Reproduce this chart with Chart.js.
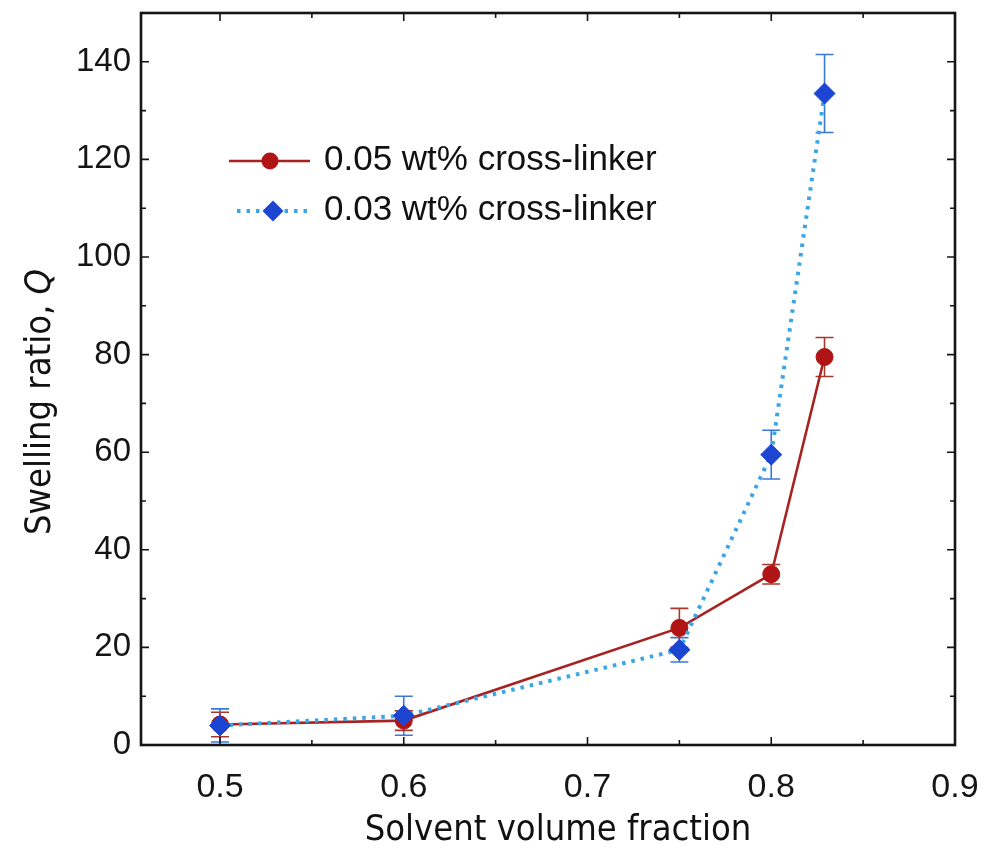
<!DOCTYPE html>
<html><head><meta charset="utf-8">
<script src="https://cdn.jsdelivr.net/npm/chart.js@4/dist/chart.umd.min.js"></script>
<style>html,body{margin:0;padding:0;background:#fff;}#wrap{width:984px;height:848px;position:relative;}</style>
</head><body><div id="wrap"><canvas id="c" width="984" height="848"></canvas></div>
<script>
// ---- data ----
const seriesLabels = ['0.05 wt% cross-linker', '0.03 wt% cross-linker'];
const x005 = [0.5, 0.6, 0.75, 0.8, 0.829];
const q005 = [4.2, 5, 24, 35, 79.5];
const e005 = [2.5, 2, 4, 2, 4];
const x003 = [0.5, 0.6, 0.75, 0.8, 0.829];
const q003 = [4, 6, 19.5, 59.5, 133.5];
const e003 = [3.4, 4, 2.5, 5, 8];
const xTickValues = [0.5, 0.55, 0.6, 0.65, 0.7, 0.75, 0.8, 0.85, 0.9];
const xTickLabels = ['0.5', '', '0.6', '', '0.7', '', '0.8', '', '0.9'];
const yTickValues = [0, 10, 20, 30, 40, 50, 60, 70, 80, 90, 100, 110, 120, 130, 140, 150];
const yTickLabels = ['0', '', '20', '', '40', '', '60', '', '80', '', '100', '', '120', '', '140', ''];
const xTitle = 'Solvent volume fraction';
const yTitleMain = 'Swelling ratio, ';
const yTitleVar = 'Q';

const RED = '#a82222', REDM = '#b01414', BLUEL = '#3aa6e8', BLUEM = '#1c46d2', BLUEE = '#3a78d8', REDE = '#a8382e';
const TITLEFAM = "'Liberation Sans Narrow', 'DejaVu Sans Condensed', sans-serif";
const TITLESIZE = 36;

const toPts = (xs, ys) => xs.map((x, i) => ({x: x, y: ys[i]}));
const noPad = s => { s.paddingTop = 0; s.paddingBottom = 0; s.paddingLeft = 0; s.paddingRight = 0; };

const deco = {
  id: 'deco',
  beforeDatasetsDraw(chart) {
    const {ctx, scales: {x, y}} = chart;
    ctx.save();
    chart.data.datasets.forEach(ds => {
      ctx.strokeStyle = ds.errColor; ctx.lineWidth = 1.6;
      ds.data.forEach((p, i) => {
        const e = ds.errors[i];
        const px = x.getPixelForValue(p.x);
        const y1 = y.getPixelForValue(p.y + e), y0 = y.getPixelForValue(Math.max(0, p.y - e));
        ctx.beginPath();
        ctx.moveTo(px, y0); ctx.lineTo(px, y1);
        ctx.moveTo(px - 9, y0); ctx.lineTo(px + 9, y0);
        ctx.moveTo(px - 9, y1); ctx.lineTo(px + 9, y1);
        ctx.stroke();
      });
    });
    ctx.restore();
  },
  afterDraw(chart) {
    const {ctx, chartArea: a, scales: {x, y}} = chart;
    ctx.save();
    ctx.strokeStyle = '#151515';
    ctx.lineWidth = 1.6;
    xTickValues.forEach((v, i) => {
      const px = x.getPixelForValue(v); const len = xTickLabels[i] ? 8 : 5;
      ctx.beginPath();
      ctx.moveTo(px, a.bottom); ctx.lineTo(px, a.bottom - len);
      ctx.moveTo(px, a.top); ctx.lineTo(px, a.top + len);
      ctx.stroke();
    });
    yTickValues.forEach((v, i) => {
      const py = y.getPixelForValue(v); const len = yTickLabels[i] ? 8 : 5;
      ctx.beginPath();
      ctx.moveTo(a.left, py); ctx.lineTo(a.left + len, py);
      ctx.moveTo(a.right, py); ctx.lineTo(a.right - len, py);
      ctx.stroke();
    });
    ctx.lineWidth = 2.6;
    ctx.strokeRect(a.left, a.top, a.right - a.left, a.bottom - a.top);

    // legend
    const ds = chart.data.datasets;
    const rows = [{d: ds[1], y: 161, x0: 229, x1: 310, mx: 270}, {d: ds[0], y: 211, x0: 237, x1: 309, mx: 273}];
    rows.forEach(r => {
      const d = r.d;
      ctx.save();
      ctx.strokeStyle = d.borderColor; ctx.lineWidth = d.borderWidth;
      ctx.setLineDash(d.borderDash || []);
      ctx.beginPath(); ctx.moveTo(r.x0, r.y); ctx.lineTo(r.x1, r.y); ctx.stroke();
      ctx.restore();
      ctx.fillStyle = d.pointBackgroundColor;
      ctx.beginPath();
      if (d.pointStyle === 'circle') { ctx.arc(r.mx, r.y, d.pointRadius, 0, Math.PI * 2); }
      else { const s = d.pointRadius; ctx.moveTo(r.mx, r.y - s); ctx.lineTo(r.mx + s, r.y); ctx.lineTo(r.mx, r.y + s); ctx.lineTo(r.mx - s, r.y); ctx.closePath(); }
      ctx.fill();
      ctx.fillStyle = '#111';
      ctx.font = "35px 'Liberation Sans', Arial, sans-serif";
      ctx.textAlign = 'left'; ctx.textBaseline = 'alphabetic';
      ctx.fillText(d.label, 324, r.y + 9);
    });

    // axis titles
    ctx.fillStyle = '#111';
    ctx.font = TITLESIZE + 'px ' + TITLEFAM;
    ctx.textAlign = 'center'; ctx.textBaseline = 'alphabetic';
    ctx.fillText(xTitle, 558, 840);
    ctx.save();
    ctx.translate(50, 402); ctx.rotate(-Math.PI / 2);
    ctx.font = TITLESIZE + 'px ' + TITLEFAM;
    const w1 = ctx.measureText(yTitleMain).width;
    ctx.font = 'italic ' + TITLESIZE + 'px ' + TITLEFAM;
    const w2 = ctx.measureText(yTitleVar).width;
    const sx = -(w1 + w2) / 2;
    ctx.textAlign = 'left';
    ctx.font = TITLESIZE + 'px ' + TITLEFAM;
    ctx.fillText(yTitleMain, sx, 0);
    ctx.font = 'italic ' + TITLESIZE + 'px ' + TITLEFAM;
    ctx.fillText(yTitleVar, sx + w1, 0);
    ctx.restore();
    ctx.restore();
  }
};

new Chart(document.getElementById('c'), {
  type: 'line',
  data: {
    datasets: [
      {label: seriesLabels[1], data: toPts(x003, q003), errors: e003, errColor: BLUEE,
       borderColor: BLUEL, borderWidth: 4, borderDash: [3.5, 6], pointStyle: 'rectRot', pointRadius: 10.5,
       pointBackgroundColor: BLUEM, pointBorderColor: BLUEM, pointBorderWidth: 1, order: 0, tension: 0},
      {label: seriesLabels[0], data: toPts(x005, q005), errors: e005, errColor: REDE,
       borderColor: RED, borderWidth: 2.6, pointStyle: 'circle', pointRadius: 8.5,
       pointBackgroundColor: REDM, pointBorderColor: REDM, pointBorderWidth: 1, order: 1, tension: 0}
    ]
  },
  options: {
    responsive: false, animation: false, devicePixelRatio: 1,
    layout: {padding: {top: 13, right: 29, left: 0, bottom: 0}},
    plugins: {legend: {display: false}, tooltip: {enabled: false}},
    scales: {
      x: {type: 'linear', min: 0.457, max: 0.9,
          afterBuildTicks: s => { s.ticks = xTickValues.map(v => ({value: v})); },
          afterFit: s => { s.height = 103; noPad(s); },
          grid: {display: false, drawTicks: false}, border: {display: false},
          ticks: {autoSkip: false, maxRotation: 0, padding: 22, color: '#151515',
                  font: {family: "'Liberation Sans', Arial, sans-serif", size: 34},
                  callback: (v, i) => xTickLabels[i]}},
      y: {type: 'linear', min: 0, max: 150,
          afterBuildTicks: s => { s.ticks = yTickValues.map(v => ({value: v})); },
          afterFit: s => { s.width = 141; noPad(s); },
          grid: {display: false, drawTicks: false}, border: {display: false},
          ticks: {autoSkip: false, padding: 10, color: '#151515',
                  font: {family: "'Liberation Sans', Arial, sans-serif", size: 33},
                  callback: (v, i) => yTickLabels[i]}}
    }
  },
  plugins: [deco]
});
</script></body></html>
